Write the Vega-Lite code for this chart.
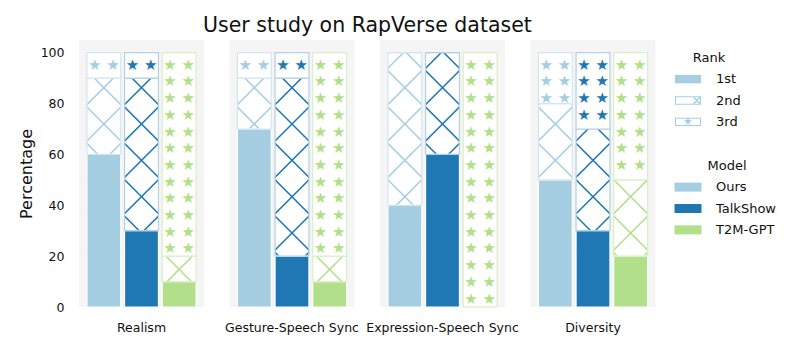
{
 "$schema": "https://vega.github.io/schema/vega-lite/v6.json",
 "padding": {"left": 18, "top": 16, "right": 5, "bottom": 5},
 "title": {"text": "User study on RapVerse dataset", "fontSize": 20.5, "fontWeight": "normal", "font": "DejaVu Sans", "color": "#111111", "anchor": "start", "frame": "group", "dx": 124, "offset": 3.4},
 "data": {"values": [
  {"criterion": "Realism", "model": "Ours", "rank": "1st", "value": 60},
  {"criterion": "Realism", "model": "Ours", "rank": "2nd", "value": 30},
  {"criterion": "Realism", "model": "Ours", "rank": "3rd", "value": 10},
  {"criterion": "Realism", "model": "TalkShow", "rank": "1st", "value": 30},
  {"criterion": "Realism", "model": "TalkShow", "rank": "2nd", "value": 60},
  {"criterion": "Realism", "model": "TalkShow", "rank": "3rd", "value": 10},
  {"criterion": "Realism", "model": "T2M-GPT", "rank": "1st", "value": 10},
  {"criterion": "Realism", "model": "T2M-GPT", "rank": "2nd", "value": 10},
  {"criterion": "Realism", "model": "T2M-GPT", "rank": "3rd", "value": 80},
  {"criterion": "Gesture-Speech Sync", "model": "Ours", "rank": "1st", "value": 70},
  {"criterion": "Gesture-Speech Sync", "model": "Ours", "rank": "2nd", "value": 20},
  {"criterion": "Gesture-Speech Sync", "model": "Ours", "rank": "3rd", "value": 10},
  {"criterion": "Gesture-Speech Sync", "model": "TalkShow", "rank": "1st", "value": 20},
  {"criterion": "Gesture-Speech Sync", "model": "TalkShow", "rank": "2nd", "value": 70},
  {"criterion": "Gesture-Speech Sync", "model": "TalkShow", "rank": "3rd", "value": 10},
  {"criterion": "Gesture-Speech Sync", "model": "T2M-GPT", "rank": "1st", "value": 10},
  {"criterion": "Gesture-Speech Sync", "model": "T2M-GPT", "rank": "2nd", "value": 10},
  {"criterion": "Gesture-Speech Sync", "model": "T2M-GPT", "rank": "3rd", "value": 80},
  {"criterion": "Expression-Speech Sync", "model": "Ours", "rank": "1st", "value": 40},
  {"criterion": "Expression-Speech Sync", "model": "Ours", "rank": "2nd", "value": 60},
  {"criterion": "Expression-Speech Sync", "model": "Ours", "rank": "3rd", "value": 0},
  {"criterion": "Expression-Speech Sync", "model": "TalkShow", "rank": "1st", "value": 60},
  {"criterion": "Expression-Speech Sync", "model": "TalkShow", "rank": "2nd", "value": 40},
  {"criterion": "Expression-Speech Sync", "model": "TalkShow", "rank": "3rd", "value": 0},
  {"criterion": "Expression-Speech Sync", "model": "T2M-GPT", "rank": "1st", "value": 0},
  {"criterion": "Expression-Speech Sync", "model": "T2M-GPT", "rank": "2nd", "value": 0},
  {"criterion": "Expression-Speech Sync", "model": "T2M-GPT", "rank": "3rd", "value": 100},
  {"criterion": "Diversity", "model": "Ours", "rank": "1st", "value": 50},
  {"criterion": "Diversity", "model": "Ours", "rank": "2nd", "value": 30},
  {"criterion": "Diversity", "model": "Ours", "rank": "3rd", "value": 20},
  {"criterion": "Diversity", "model": "TalkShow", "rank": "1st", "value": 30},
  {"criterion": "Diversity", "model": "TalkShow", "rank": "2nd", "value": 40},
  {"criterion": "Diversity", "model": "TalkShow", "rank": "3rd", "value": 30},
  {"criterion": "Diversity", "model": "T2M-GPT", "rank": "1st", "value": 20},
  {"criterion": "Diversity", "model": "T2M-GPT", "rank": "2nd", "value": 30},
  {"criterion": "Diversity", "model": "T2M-GPT", "rank": "3rd", "value": 50}
 ]},
 "facet": {"column": {"field": "criterion", "type": "nominal", "title": null,
   "sort": ["Realism", "Gesture-Speech Sync", "Expression-Speech Sync", "Diversity"],
   "header": {"labelOrient": "bottom", "labelFontSize": 12.5, "labelFont": "DejaVu Sans", "labelColor": "#111111", "labelPadding": 13}}},
 "spacing": 25.5,
 "spec": {
  "width": 125,
  "height": 267,
  "encoding": {"x": {"field": "model", "type": "nominal", "sort": ["Ours", "TalkShow", "T2M-GPT"], "axis": null, "scale": {"paddingInner": 0.1, "paddingOuter": 0.21}}},
  "layer": [
   {
    "mark": {"type": "bar"},
    "encoding": {
     "y": {"aggregate": "sum", "field": "value", "type": "quantitative", "scale": {"domain": [0, 105]}, "title": "Percentage"},
     "fill": {
      "condition": [
       {"test": "datum.model === 'Ours'", "value": {"gradient": "linear", "x1": 0, "y1": 0, "x2": 1, "y2": 7.5, "stops": [
        {"offset": 0, "color": "#ffffff"},
        {"offset": 0.0071, "color": "#ffffff"}, {"offset": 0.0078, "color": "#a6cee3"}, {"offset": 0.0082, "color": "#a6cee3"}, {"offset": 0.0089, "color": "#ffffff"},
        {"offset": 0.02583, "color": "#ffffff"}, {"offset": 0.02653, "color": "#a6cee3"}, {"offset": 0.02693, "color": "#a6cee3"}, {"offset": 0.02763, "color": "#ffffff"},
        {"offset": 0.04456, "color": "#ffffff"}, {"offset": 0.04526, "color": "#a6cee3"}, {"offset": 0.04566, "color": "#a6cee3"}, {"offset": 0.04636, "color": "#ffffff"},
        {"offset": 0.06329, "color": "#ffffff"}, {"offset": 0.06399, "color": "#a6cee3"}, {"offset": 0.06439, "color": "#a6cee3"}, {"offset": 0.06509, "color": "#ffffff"},
        {"offset": 0.08202, "color": "#ffffff"}, {"offset": 0.08272, "color": "#a6cee3"}, {"offset": 0.08312, "color": "#a6cee3"}, {"offset": 0.08382, "color": "#ffffff"},
        {"offset": 0.10075, "color": "#ffffff"}, {"offset": 0.10145, "color": "#a6cee3"}, {"offset": 0.10185, "color": "#a6cee3"}, {"offset": 0.10255, "color": "#ffffff"},
        {"offset": 0.11948, "color": "#ffffff"}, {"offset": 0.12018, "color": "#a6cee3"}, {"offset": 0.12058, "color": "#a6cee3"}, {"offset": 0.12128, "color": "#ffffff"},
        {"offset": 0.13821, "color": "#ffffff"}, {"offset": 0.13891, "color": "#a6cee3"}, {"offset": 0.13931, "color": "#a6cee3"}, {"offset": 0.14001, "color": "#ffffff"},
        {"offset": 1, "color": "#ffffff"}]}},
       {"test": "datum.model === 'TalkShow'", "value": {"gradient": "linear", "x1": 0, "y1": 0, "x2": 1, "y2": 7.5, "stops": [
        {"offset": 0, "color": "#ffffff"},
        {"offset": 0.0071, "color": "#ffffff"}, {"offset": 0.0078, "color": "#1f78b4"}, {"offset": 0.0082, "color": "#1f78b4"}, {"offset": 0.0089, "color": "#ffffff"},
        {"offset": 0.02583, "color": "#ffffff"}, {"offset": 0.02653, "color": "#1f78b4"}, {"offset": 0.02693, "color": "#1f78b4"}, {"offset": 0.02763, "color": "#ffffff"},
        {"offset": 0.04456, "color": "#ffffff"}, {"offset": 0.04526, "color": "#1f78b4"}, {"offset": 0.04566, "color": "#1f78b4"}, {"offset": 0.04636, "color": "#ffffff"},
        {"offset": 0.06329, "color": "#ffffff"}, {"offset": 0.06399, "color": "#1f78b4"}, {"offset": 0.06439, "color": "#1f78b4"}, {"offset": 0.06509, "color": "#ffffff"},
        {"offset": 0.08202, "color": "#ffffff"}, {"offset": 0.08272, "color": "#1f78b4"}, {"offset": 0.08312, "color": "#1f78b4"}, {"offset": 0.08382, "color": "#ffffff"},
        {"offset": 0.10075, "color": "#ffffff"}, {"offset": 0.10145, "color": "#1f78b4"}, {"offset": 0.10185, "color": "#1f78b4"}, {"offset": 0.10255, "color": "#ffffff"},
        {"offset": 0.11948, "color": "#ffffff"}, {"offset": 0.12018, "color": "#1f78b4"}, {"offset": 0.12058, "color": "#1f78b4"}, {"offset": 0.12128, "color": "#ffffff"},
        {"offset": 0.13821, "color": "#ffffff"}, {"offset": 0.13891, "color": "#1f78b4"}, {"offset": 0.13931, "color": "#1f78b4"}, {"offset": 0.14001, "color": "#ffffff"},
        {"offset": 1, "color": "#ffffff"}]}}
      ],
      "value": {"gradient": "linear", "x1": 0, "y1": 0, "x2": 1, "y2": 7.5, "stops": [
        {"offset": 0, "color": "#ffffff"},
        {"offset": 0.0071, "color": "#ffffff"}, {"offset": 0.0078, "color": "#b2df8a"}, {"offset": 0.0082, "color": "#b2df8a"}, {"offset": 0.0089, "color": "#ffffff"},
        {"offset": 0.02583, "color": "#ffffff"}, {"offset": 0.02653, "color": "#b2df8a"}, {"offset": 0.02693, "color": "#b2df8a"}, {"offset": 0.02763, "color": "#ffffff"},
        {"offset": 0.04456, "color": "#ffffff"}, {"offset": 0.04526, "color": "#b2df8a"}, {"offset": 0.04566, "color": "#b2df8a"}, {"offset": 0.04636, "color": "#ffffff"},
        {"offset": 0.06329, "color": "#ffffff"}, {"offset": 0.06399, "color": "#b2df8a"}, {"offset": 0.06439, "color": "#b2df8a"}, {"offset": 0.06509, "color": "#ffffff"},
        {"offset": 0.08202, "color": "#ffffff"}, {"offset": 0.08272, "color": "#b2df8a"}, {"offset": 0.08312, "color": "#b2df8a"}, {"offset": 0.08382, "color": "#ffffff"},
        {"offset": 0.10075, "color": "#ffffff"}, {"offset": 0.10145, "color": "#b2df8a"}, {"offset": 0.10185, "color": "#b2df8a"}, {"offset": 0.10255, "color": "#ffffff"},
        {"offset": 0.11948, "color": "#ffffff"}, {"offset": 0.12018, "color": "#b2df8a"}, {"offset": 0.12058, "color": "#b2df8a"}, {"offset": 0.12128, "color": "#ffffff"},
        {"offset": 0.13821, "color": "#ffffff"}, {"offset": 0.13891, "color": "#b2df8a"}, {"offset": 0.13931, "color": "#b2df8a"}, {"offset": 0.14001, "color": "#ffffff"},
        {"offset": 1, "color": "#ffffff"}]}
     }
    }
   },
   {
    "mark": {"type": "bar"},
    "encoding": {
     "y": {"aggregate": "sum", "field": "value", "type": "quantitative", "scale": {"domain": [0, 105]}, "title": "Percentage"},
     "fill": {
      "condition": [
       {"test": "datum.model === 'Ours'", "value": {"gradient": "linear", "x1": 1, "y1": 0, "x2": 0, "y2": 7.5, "stops": [
        {"offset": 0, "color": "rgba(166,206,227,0)"},
        {"offset": 0.0071, "color": "rgba(166,206,227,0)"}, {"offset": 0.0078, "color": "#a6cee3"}, {"offset": 0.0082, "color": "#a6cee3"}, {"offset": 0.0089, "color": "rgba(166,206,227,0)"},
        {"offset": 0.02583, "color": "rgba(166,206,227,0)"}, {"offset": 0.02653, "color": "#a6cee3"}, {"offset": 0.02693, "color": "#a6cee3"}, {"offset": 0.02763, "color": "rgba(166,206,227,0)"},
        {"offset": 0.04456, "color": "rgba(166,206,227,0)"}, {"offset": 0.04526, "color": "#a6cee3"}, {"offset": 0.04566, "color": "#a6cee3"}, {"offset": 0.04636, "color": "rgba(166,206,227,0)"},
        {"offset": 0.06329, "color": "rgba(166,206,227,0)"}, {"offset": 0.06399, "color": "#a6cee3"}, {"offset": 0.06439, "color": "#a6cee3"}, {"offset": 0.06509, "color": "rgba(166,206,227,0)"},
        {"offset": 0.08202, "color": "rgba(166,206,227,0)"}, {"offset": 0.08272, "color": "#a6cee3"}, {"offset": 0.08312, "color": "#a6cee3"}, {"offset": 0.08382, "color": "rgba(166,206,227,0)"},
        {"offset": 0.10075, "color": "rgba(166,206,227,0)"}, {"offset": 0.10145, "color": "#a6cee3"}, {"offset": 0.10185, "color": "#a6cee3"}, {"offset": 0.10255, "color": "rgba(166,206,227,0)"},
        {"offset": 0.11948, "color": "rgba(166,206,227,0)"}, {"offset": 0.12018, "color": "#a6cee3"}, {"offset": 0.12058, "color": "#a6cee3"}, {"offset": 0.12128, "color": "rgba(166,206,227,0)"},
        {"offset": 0.13821, "color": "rgba(166,206,227,0)"}, {"offset": 0.13891, "color": "#a6cee3"}, {"offset": 0.13931, "color": "#a6cee3"}, {"offset": 0.14001, "color": "rgba(166,206,227,0)"},
        {"offset": 1, "color": "rgba(166,206,227,0)"}]}},
       {"test": "datum.model === 'TalkShow'", "value": {"gradient": "linear", "x1": 1, "y1": 0, "x2": 0, "y2": 7.5, "stops": [
        {"offset": 0, "color": "rgba(31,120,180,0)"},
        {"offset": 0.0071, "color": "rgba(31,120,180,0)"}, {"offset": 0.0078, "color": "#1f78b4"}, {"offset": 0.0082, "color": "#1f78b4"}, {"offset": 0.0089, "color": "rgba(31,120,180,0)"},
        {"offset": 0.02583, "color": "rgba(31,120,180,0)"}, {"offset": 0.02653, "color": "#1f78b4"}, {"offset": 0.02693, "color": "#1f78b4"}, {"offset": 0.02763, "color": "rgba(31,120,180,0)"},
        {"offset": 0.04456, "color": "rgba(31,120,180,0)"}, {"offset": 0.04526, "color": "#1f78b4"}, {"offset": 0.04566, "color": "#1f78b4"}, {"offset": 0.04636, "color": "rgba(31,120,180,0)"},
        {"offset": 0.06329, "color": "rgba(31,120,180,0)"}, {"offset": 0.06399, "color": "#1f78b4"}, {"offset": 0.06439, "color": "#1f78b4"}, {"offset": 0.06509, "color": "rgba(31,120,180,0)"},
        {"offset": 0.08202, "color": "rgba(31,120,180,0)"}, {"offset": 0.08272, "color": "#1f78b4"}, {"offset": 0.08312, "color": "#1f78b4"}, {"offset": 0.08382, "color": "rgba(31,120,180,0)"},
        {"offset": 0.10075, "color": "rgba(31,120,180,0)"}, {"offset": 0.10145, "color": "#1f78b4"}, {"offset": 0.10185, "color": "#1f78b4"}, {"offset": 0.10255, "color": "rgba(31,120,180,0)"},
        {"offset": 0.11948, "color": "rgba(31,120,180,0)"}, {"offset": 0.12018, "color": "#1f78b4"}, {"offset": 0.12058, "color": "#1f78b4"}, {"offset": 0.12128, "color": "rgba(31,120,180,0)"},
        {"offset": 0.13821, "color": "rgba(31,120,180,0)"}, {"offset": 0.13891, "color": "#1f78b4"}, {"offset": 0.13931, "color": "#1f78b4"}, {"offset": 0.14001, "color": "rgba(31,120,180,0)"},
        {"offset": 1, "color": "rgba(31,120,180,0)"}]}}
      ],
      "value": {"gradient": "linear", "x1": 1, "y1": 0, "x2": 0, "y2": 7.5, "stops": [
        {"offset": 0, "color": "rgba(178,223,138,0)"},
        {"offset": 0.0071, "color": "rgba(178,223,138,0)"}, {"offset": 0.0078, "color": "#b2df8a"}, {"offset": 0.0082, "color": "#b2df8a"}, {"offset": 0.0089, "color": "rgba(178,223,138,0)"},
        {"offset": 0.02583, "color": "rgba(178,223,138,0)"}, {"offset": 0.02653, "color": "#b2df8a"}, {"offset": 0.02693, "color": "#b2df8a"}, {"offset": 0.02763, "color": "rgba(178,223,138,0)"},
        {"offset": 0.04456, "color": "rgba(178,223,138,0)"}, {"offset": 0.04526, "color": "#b2df8a"}, {"offset": 0.04566, "color": "#b2df8a"}, {"offset": 0.04636, "color": "rgba(178,223,138,0)"},
        {"offset": 0.06329, "color": "rgba(178,223,138,0)"}, {"offset": 0.06399, "color": "#b2df8a"}, {"offset": 0.06439, "color": "#b2df8a"}, {"offset": 0.06509, "color": "rgba(178,223,138,0)"},
        {"offset": 0.08202, "color": "rgba(178,223,138,0)"}, {"offset": 0.08272, "color": "#b2df8a"}, {"offset": 0.08312, "color": "#b2df8a"}, {"offset": 0.08382, "color": "rgba(178,223,138,0)"},
        {"offset": 0.10075, "color": "rgba(178,223,138,0)"}, {"offset": 0.10145, "color": "#b2df8a"}, {"offset": 0.10185, "color": "#b2df8a"}, {"offset": 0.10255, "color": "rgba(178,223,138,0)"},
        {"offset": 0.11948, "color": "rgba(178,223,138,0)"}, {"offset": 0.12018, "color": "#b2df8a"}, {"offset": 0.12058, "color": "#b2df8a"}, {"offset": 0.12128, "color": "rgba(178,223,138,0)"},
        {"offset": 0.13821, "color": "rgba(178,223,138,0)"}, {"offset": 0.13891, "color": "#b2df8a"}, {"offset": 0.13931, "color": "#b2df8a"}, {"offset": 0.14001, "color": "rgba(178,223,138,0)"},
        {"offset": 1, "color": "rgba(178,223,138,0)"}]}
     }
    }
   },
   {
    "mark": {"type": "bar", "strokeWidth": 1.2},
    "encoding": {
     "y": {"field": "value", "type": "quantitative", "stack": "zero", "scale": {"domain": [0, 105]}, "title": "Percentage"},
     "detail": {"field": "rank", "type": "nominal"},
     "order": {"field": "rank", "type": "ordinal", "sort": "ascending"},
     "fill": {
      "field": "model", "type": "nominal",
      "scale": {"domain": ["Ours", "TalkShow", "T2M-GPT"], "range": ["#a6cee3", "#1f78b4", "#b2df8a"]},
      "legend": {"title": "Model", "orient": "none", "legendX": 599, "legendY": 119.6,
        "symbolType": "M-1.35,-0.45H1.35V0.45H-1.35Z", "symbolStrokeWidth": 0,
        "encode": {"symbols": {"update": {"strokeWidth": {"value": 0}}}}},
      "condition": [
       {"test": "datum.rank === '2nd'", "value": "transparent"},
       {"test": "datum.rank === '3rd'", "value": "#ffffff"}
      ]
     },
     "stroke": {
      "condition": [
       {"test": "datum.rank === '1st'", "value": "#ffffff"},
       {"test": "datum.model === 'Ours'", "value": "#d3e6f0"},
       {"test": "datum.model === 'TalkShow'", "value": "#b3d0e4"}
      ],
      "value": "#d9efc6"
     }
    }
   },
   {
    "transform": [
     {"joinaggregate": [{"op": "sum", "field": "value", "as": "total"}], "groupby": ["criterion", "model"]},
     {"filter": "datum.rank === '3rd' && datum.value > 0"}
    ],
    "mark": {"type": "text", "baseline": "top", "align": "center", "fontSize": 15, "lineHeight": 16.7, "dy": 5, "font": "DejaVu Sans"},
    "encoding": {
     "y": {"field": "total", "type": "quantitative", "scale": {"domain": [0, 105]}, "title": "Percentage"},
     "fill": {
      "condition": [
       {"test": "datum.model === 'Ours'", "value": "#a6cee3"},
       {"test": "datum.model === 'TalkShow'", "value": "#1f78b4"}
      ],
      "value": "#b2df8a"
     },
     "text": {
      "condition": [
       {"test": "datum.value <= 10", "value": "\u2605\u00a0\u2605\u00a0\u00a0"},
       {"test": "datum.value <= 20", "value": ["\u2605\u00a0\u2605\u00a0\u00a0", "\u00a0\u00a0\u2605\u00a0\u2605", "\u2605\u00a0\u2605\u00a0\u00a0"]},
       {"test": "datum.value <= 30", "value": ["\u2605\u00a0\u2605\u00a0\u00a0", "\u00a0\u00a0\u2605\u00a0\u2605", "\u2605\u00a0\u2605\u00a0\u00a0", "\u00a0\u00a0\u2605\u00a0\u2605"]},
       {"test": "datum.value <= 50", "value": ["\u2605\u00a0\u2605\u00a0\u00a0", "\u00a0\u00a0\u2605\u00a0\u2605", "\u2605\u00a0\u2605\u00a0\u00a0", "\u00a0\u00a0\u2605\u00a0\u2605", "\u2605\u00a0\u2605\u00a0\u00a0", "\u00a0\u00a0\u2605\u00a0\u2605", "\u2605\u00a0\u2605\u00a0\u00a0"]},
       {"test": "datum.value <= 80", "value": ["\u2605\u00a0\u2605\u00a0\u00a0", "\u00a0\u00a0\u2605\u00a0\u2605", "\u2605\u00a0\u2605\u00a0\u00a0", "\u00a0\u00a0\u2605\u00a0\u2605", "\u2605\u00a0\u2605\u00a0\u00a0", "\u00a0\u00a0\u2605\u00a0\u2605", "\u2605\u00a0\u2605\u00a0\u00a0", "\u00a0\u00a0\u2605\u00a0\u2605", "\u2605\u00a0\u2605\u00a0\u00a0", "\u00a0\u00a0\u2605\u00a0\u2605", "\u2605\u00a0\u2605\u00a0\u00a0", "\u00a0\u00a0\u2605\u00a0\u2605"]}
      ],
      "value": ["\u2605\u00a0\u2605\u00a0\u00a0", "\u00a0\u00a0\u2605\u00a0\u2605", "\u2605\u00a0\u2605\u00a0\u00a0", "\u00a0\u00a0\u2605\u00a0\u2605", "\u2605\u00a0\u2605\u00a0\u00a0", "\u00a0\u00a0\u2605\u00a0\u2605", "\u2605\u00a0\u2605\u00a0\u00a0", "\u00a0\u00a0\u2605\u00a0\u2605", "\u2605\u00a0\u2605\u00a0\u00a0", "\u00a0\u00a0\u2605\u00a0\u2605", "\u2605\u00a0\u2605\u00a0\u00a0", "\u00a0\u00a0\u2605\u00a0\u2605", "\u2605\u00a0\u2605\u00a0\u00a0", "\u00a0\u00a0\u2605\u00a0\u2605", "\u2605\u00a0\u2605\u00a0\u00a0"]
     }
    }
   },
   {
    "mark": {"type": "point", "filled": true, "opacity": 0, "color": "#a6cee3"},
    "encoding": {
     "y": {"field": "value", "type": "quantitative", "scale": {"domain": [0, 105]}, "title": "Percentage"},
     "shape": {
      "field": "rank", "type": "nominal",
      "scale": {"domain": ["1st", "2nd", "3rd"], "range": [
       "M-1.3,-0.42H1.3V0.42H-1.3Z",
       "M-1.3,-0.42H1.3V0.42H-1.3Z M-1.2,-0.32V0.32H1.2V-0.32Z M0.55,-0.32L0.65,-0.32L1.2,0.22L1.2,0.32L1.1,0.32L0.55,-0.22Z M1.2,-0.32L1.2,-0.22L0.65,0.32L0.55,0.32L0.55,0.22L1.1,-0.32Z",
       "M-1.3,-0.42H1.3V0.42H-1.3Z M-1.2,-0.32V0.32H1.2V-0.32Z M0,-0.47L0.1,-0.1875L0.3995,-0.1798L0.1617,0.0025L0.2469,0.2898L0,0.12L-0.2469,0.2898L-0.1617,0.0025L-0.3995,-0.1798L-0.1,-0.1875Z"
      ]},
      "legend": {"title": "Rank", "orient": "none", "legendX": 599, "legendY": 11.6,
        "symbolFillColor": "#a6cee3", "symbolStrokeWidth": 0, "symbolOpacity": 1,
        "encode": {"symbols": {"update": {"fill": {"value": "#a6cee3"}, "opacity": {"value": 1}, "fillOpacity": {"value": 1}, "strokeWidth": {"value": 0}}}}}
     }
    }
   }
  ]
 },
 "config": {
  "font": "DejaVu Sans",
  "view": {"fill": "#f5f5f5", "stroke": null},
  "axisY": {"domain": false, "ticks": false, "grid": false, "labelFontSize": 12.5, "labelColor": "#111111", "labelPadding": 15, "titleFontSize": 16, "titleFontWeight": "normal", "titleColor": "#111111", "titlePadding": 6, "tickCount": 5},
  "legend": {"labelFontSize": 13, "titleFontSize": 13, "titleFontWeight": "normal", "labelColor": "#111111", "titleColor": "#111111", "titleAnchor": "middle", "symbolSize": 400, "labelOffset": 18, "rowPadding": 4.4, "titlePadding": 4.5, "padding": 0}
 }
}
